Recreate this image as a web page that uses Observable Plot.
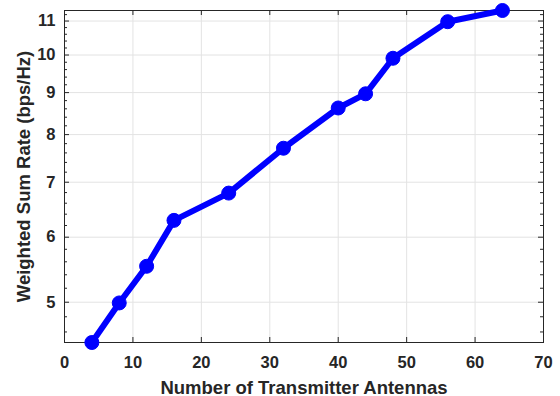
<!DOCTYPE html>
<html><head><meta charset="utf-8">
<script src="https://cdn.jsdelivr.net/npm/d3@7"></script>
<script src="https://cdn.jsdelivr.net/npm/@observablehq/plot@0.6"></script>
<style>body{margin:0;background:#fff} svg{display:block}</style>
</head><body><div id="chart"></div>
<script>
const antennas = [4, 8, 12, 16, 24, 32, 40, 44, 48, 56, 64];
const rate = [4.466, 4.99, 5.53, 6.29, 6.79, 7.70, 8.62, 8.97, 9.91, 10.98, 11.33];
const xTicks = [0, 10, 20, 30, 40, 50, 60, 70];
const yTicks = [5, 6, 7, 8, 9, 10, 11];
const yMinorTicks = [4.6, 4.8, 5.2, 5.4, 5.6, 5.8, 6.2, 6.4, 6.6, 6.8, 7.2, 7.4, 7.6, 7.8,
  8.2, 8.4, 8.6, 8.8, 9.2, 9.4, 9.6, 9.8, 10.2, 10.4, 10.6, 10.8, 11.2];
const xLabel = "Number of Transmitter Antennas";
const yLabel = "Weighted Sum Rate (bps/Hz)";

const data = antennas.map((a, i) => ({a, r: rate[i]}));
const W = 560, H = 396, mL = 64, mR = 17, mT = 10, mB = 54;
const fw = W - mL - mR, fh = H - mT - mB;
const axisColor = "#262626";
const gridColor = "#e3e3e3";
const font = "Arial, 'Liberation Sans', sans-serif";

const chart = Plot.plot({
  width: W, height: H,
  marginLeft: mL, marginRight: mR, marginTop: mT, marginBottom: mB,
  style: {fontFamily: font, fontSize: "16px", fontWeight: "bold", color: axisColor, background: "#fff"},
  x: {domain: [0, 70]},
  y: {type: "log", domain: d3.extent(rate)},
  marks: [
    Plot.gridX(xTicks, {stroke: gridColor, strokeOpacity: 1}),
    Plot.gridY(yTicks, {stroke: gridColor, strokeOpacity: 1}),
    Plot.frame({stroke: axisColor, strokeWidth: 1}),
    Plot.tickY(yTicks, {y: d => d, stroke: axisColor, insetRight: fw - 5}),
    Plot.tickY(yTicks, {y: d => d, stroke: axisColor, insetLeft: fw - 5}),
    Plot.tickY(yMinorTicks, {y: d => d, stroke: axisColor, insetRight: fw - 3}),
    Plot.tickY(yMinorTicks, {y: d => d, stroke: axisColor, insetLeft: fw - 3}),
    Plot.tickX(xTicks, {x: d => d, stroke: axisColor, insetTop: fh - 5}),
    Plot.tickX(xTicks, {x: d => d, stroke: axisColor, insetBottom: fh - 5}),
    Plot.axisX(xTicks, {tickSize: 0, tickPadding: 14, tickFormat: d => String(d), fontSize: 16.5,
      label: null}),
    Plot.axisY(yTicks, {tickSize: 0, tickPadding: 9, tickFormat: d => String(d), fontSize: 16.5,
      label: null}),
    Plot.axisX(xTicks, {tickSize: 0, tickFormat: () => "", fontSize: 18.5,
      label: xLabel, labelAnchor: "center", labelOffset: 51, labelArrow: "none"}),
    Plot.axisY(yTicks, {tickSize: 0, tickFormat: () => "", fontSize: 18.5,
      label: yLabel, labelAnchor: "center", labelOffset: 48, labelArrow: "none", dy: 3}),
    Plot.line(data, {x: "a", y: "r", stroke: "#0000ff", strokeWidth: 6}),
    Plot.dot(data, {x: "a", y: "r", r: 7, fill: "#0000ff", stroke: "#0000ff", strokeWidth: 1})
  ]
});
document.getElementById("chart").appendChild(chart);
</script>
</body></html>
